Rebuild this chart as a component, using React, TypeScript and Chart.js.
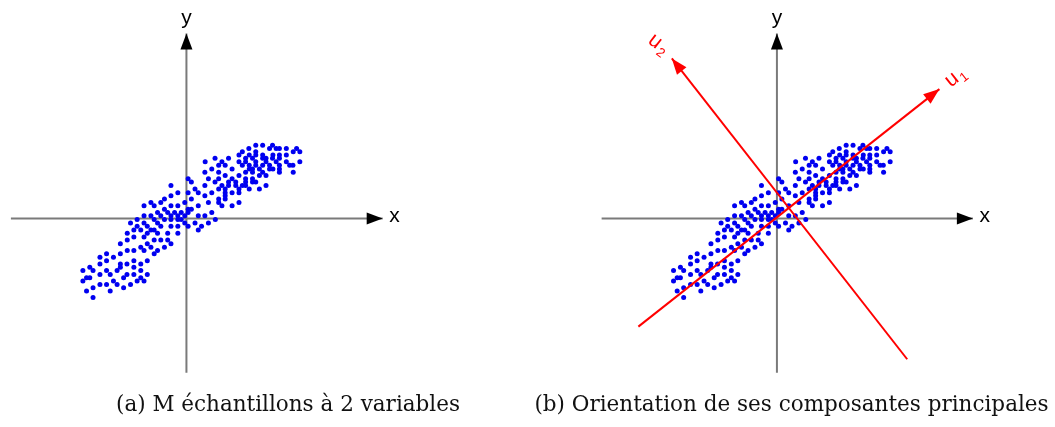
import { useEffect, useRef } from "react";
import { Chart, registerables } from "chart.js";

Chart.register(...registerables);

// Sample cloud (M samples, 2 variables), grouped by rows: y value and the x values on that row
const sampleRowY = [
  7.4, 7.07, 6.73, 6.4, 6.07, 5.73, 5.37, 5.0, 4.67, 4.33, 4.0, 3.67, 3.33, 2.97, 2.6, 2.3, 1.97, 1.6, 1.27, 0.93,
  0.6, 0.27, -0.1, -0.47, -0.8, -1.17, -1.5, -1.87, -2.17, -2.57, -2.9, -3.23, -3.57, -3.93, -4.27, -4.6, -4.93,
  -5.27, -5.67, -6.0, -6.33, -6.67, -7.0, -7.33, -8.0,
];
const sampleRowX = [
  [7.03, 7.73, 8.73],
  [6.33, 8.43, 9.1, 9.43, 10.13, 11.17],
  [5.67, 7.03, 10.83, 11.5],
  [5.33, 6.37, 7.03, 7.73, 8.77, 9.43, 10.13],
  [2.9, 4.27, 6.0, 6.7, 7.73, 8.07, 8.73, 9.43],
  [1.9, 3.6, 5.33, 6.0, 7.03, 8.07, 9.1, 10.13, 11.5],
  [3.27, 3.93, 5.67, 6.37, 7.03, 7.73, 8.43, 9.43, 10.47, 10.8],
  [2.57, 4.63, 6.37, 6.7, 7.4, 8.43, 8.77, 9.43],
  [1.87, 3.27, 6.0, 6.7, 7.73, 9.43, 10.83],
  [3.93, 5.33, 7.4, 8.07],
  [0.17, 2.23, 3.27, 4.63, 6.0, 6.7],
  [0.5, 2.9, 4.27, 5.0, 6.0, 6.7, 7.03],
  [-1.57, 1.87, 3.6, 4.27, 5.0, 5.67, 6.0, 8.07],
  [0.87, 3.27, 3.93, 5.33, 6.37, 7.4],
  [-0.87, 0.17, 1.2, 2.57, 3.93, 4.63, 5.33],
  [-1.57, 1.87, 3.93],
  [-2.23, 0.5, 3.27, 3.93],
  [-3.6, -2.6, -0.17, 2.23, 3.27, 5.33],
  [-4.3, -3.27, -1.57, -0.87, 1.2, 3.6, 4.63],
  [-2.23, 0.17, 0.5],
  [-2.93, -1.9, -1.2, -0.53, 0.17, 2.57],
  [-4.3, -3.6, -2.6, -1.57, -0.87, -0.17, 1.2, 1.87],
  [-5.0, -3.27, -2.23, -1.57, -0.87, -0.53, 2.93],
  [-5.67, -4.3, -2.93, -0.17, 0.87, 2.23],
  [-5.0, -3.97, -2.6, -1.57, -0.87, 0.17, 1.53],
  [-5.33, -4.63, -3.6, -3.27, 1.2],
  [-6.0, -3.97, -2.93, -1.9, -0.87],
  [-5.33, -4.3],
  [-6.0, -3.27, -2.6, -1.9],
  [-6.7, -3.97, -1.57],
  [-4.63, -3.6, -2.23],
  [-6.0, -5.33, -4.3, -2.93],
  [-8.1, -6.7, -3.27],
  [-8.77, -7.4],
  [-8.1, -5.33, -3.97],
  [-8.77, -6.7, -6.03, -4.63],
  [-9.8, -6.7, -5.33],
  [-10.5, -9.47, -8.1, -7.03, -4.63],
  [-8.77, -7.73, -6.03, -5.33, -3.97],
  [-10.13, -9.8, -6.37, -4.63],
  [-10.5, -7.4, -5.0, -4.3],
  [-8.77, -8.1, -7.03, -5.67],
  [-9.47, -6.37],
  [-10.13, -7.73],
  [-9.47],
];

// Coordinate axes (start, end with arrow)
const axisXRange = [-17.8, 19.9];
const axisYRange = [-15.6, 18.7];

// Principal components (start, end with arrow)
const u1X = [-14.07, 16.5];
const u1Y = [-10.93, 13.07];
const u2X = [13.23, -10.67];
const u2Y = [-14.23, 16.17];

const captions = ["(a) M échantillons à 2 variables", "(b) Orientation de ses composantes principales"];

const axisLabels = [
  { text: "x", sub: "", x: 21.1, y: -0.33, angle: 0, color: "#000000" },
  { text: "y", sub: "", x: 0, y: 19.6, angle: 0, color: "#000000" },
];
const vectorLabels = [
  { text: "u", sub: "1", x: 18.1, y: 14.2, angle: -38, color: "#ff0000" },
  { text: "u", sub: "2", x: -12.1, y: 17.6, angle: 38, color: "#ff0000" },
];

const Y_MIN = -16.63;
const Y_MAX = 21.67;

const samplePoints = sampleRowY.flatMap((yv, i) => sampleRowX[i].map((xv) => ({ x: xv, y: yv })));

const arrowPlugin = {
  id: "arrowHeads",
  afterDatasetsDraw(chart: any) {
    const ctx = chart.ctx;
    chart.data.datasets.forEach((ds: any, i: number) => {
      if (!ds.arrowColor) return;
      const pts = chart.getDatasetMeta(i).data;
      const a = pts[pts.length - 2];
      const b = pts[pts.length - 1];
      const ang = Math.atan2(b.y - a.y, b.x - a.x);
      const L = 16;
      const W = 6;
      ctx.save();
      ctx.translate(b.x, b.y);
      ctx.rotate(ang);
      ctx.beginPath();
      ctx.moveTo(0, 0);
      ctx.lineTo(-L, -W);
      ctx.lineTo(-L, W);
      ctx.closePath();
      ctx.fillStyle = ds.arrowColor;
      ctx.fill();
      ctx.restore();
    });
    const labels = chart.options.plugins.axisText?.items || [];
    labels.forEach((lb: any) => {
      const px = chart.scales.x.getPixelForValue(lb.x);
      const py = chart.scales.y.getPixelForValue(lb.y);
      ctx.save();
      ctx.translate(px, py);
      ctx.rotate((lb.angle * Math.PI) / 180);
      ctx.fillStyle = lb.color;
      ctx.textBaseline = "alphabetic";
      if (lb.sub) {
        ctx.font = '21px "Liberation Sans"';
        ctx.textAlign = "right";
        ctx.fillText(lb.text, 2, 5);
        ctx.font = '13px "Liberation Sans"';
        ctx.textAlign = "left";
        ctx.fillText(lb.sub, 4, 9);
      } else {
        ctx.font = '21px "Liberation Sans"';
        ctx.textAlign = "center";
        ctx.fillText(lb.text, 0, 0);
      }
      ctx.restore();
    });
  },
};

function Panel(props: { left: number; width: number; xMin: number; xMax: number; caption: string; vectors: boolean }) {
  const ref = useRef<HTMLCanvasElement>(null);
  useEffect(() => {
    const datasets: any[] = [
      {
        data: [
          { x: axisXRange[0], y: 0 },
          { x: axisXRange[1], y: 0 },
        ],
        showLine: true,
        borderColor: "#7a7a7a",
        borderWidth: 2,
        pointRadius: 0,
        arrowColor: "#000000",
        order: 5,
      },
      {
        data: [
          { x: 0, y: axisYRange[0] },
          { x: 0, y: axisYRange[1] },
        ],
        showLine: true,
        borderColor: "#7a7a7a",
        borderWidth: 2,
        pointRadius: 0,
        arrowColor: "#000000",
        order: 4,
      },
      {
        data: samplePoints,
        pointRadius: 2.5,
        pointBackgroundColor: "rgb(0,0,240)",
        pointBorderWidth: 0,
        order: 3,
      },
    ];
    const items = [...axisLabels];
    if (props.vectors) {
      datasets.push(
        {
          data: u1X.map((v, i) => ({ x: v, y: u1Y[i] })),
          showLine: true,
          borderColor: "#ff0000",
          borderWidth: 2,
          pointRadius: 0,
          arrowColor: "#ff0000",
          order: 1,
        },
        {
          data: u2X.map((v, i) => ({ x: v, y: u2Y[i] })),
          showLine: true,
          borderColor: "#ff0000",
          borderWidth: 2,
          pointRadius: 0,
          arrowColor: "#ff0000",
          order: 2,
        }
      );
      items.push(...vectorLabels);
    }
    const chart = new Chart(ref.current as HTMLCanvasElement, {
      type: "scatter",
      data: { datasets },
      options: {
        animation: false,
        responsive: false,
        devicePixelRatio: 1,
        events: [],
        layout: { padding: 0 },
        scales: {
          x: { type: "linear", min: props.xMin, max: props.xMax, display: false },
          y: { type: "linear", min: Y_MIN, max: Y_MAX, display: false },
        },
        plugins: {
          legend: { display: false },
          tooltip: { enabled: false },
          title: {
            display: true,
            text: props.caption,
            position: "bottom",
            color: "#111111",
            font: { family: '"DejaVu Serif"', size: 21.5, weight: "normal" as any, lineHeight: 1.2 },
            padding: { top: 9.6, bottom: 8.6 },
          },
          axisText: { items },
        } as any,
      },
      plugins: [arrowPlugin],
    } as any);
    return () => chart.destroy();
  }, []);
  return (
    <canvas
      ref={ref}
      width={props.width}
      height={427}
      style={{ position: "absolute", left: props.left, top: 0, width: props.width, height: 427 }}
    />
  );
}

export default function App() {
  return (
    <div style={{ position: "fixed", left: 0, top: 0, width: 1055, height: 427, background: "#ffffff" }}>
      <Panel left={0} width={576} xMin={-18.5} xMax={39.1} caption={captions[0]} vectors={false} />
      <Panel left={528} width={527} xMin={-24.87} xMax={27.83} caption={captions[1]} vectors={true} />
    </div>
  );
}
